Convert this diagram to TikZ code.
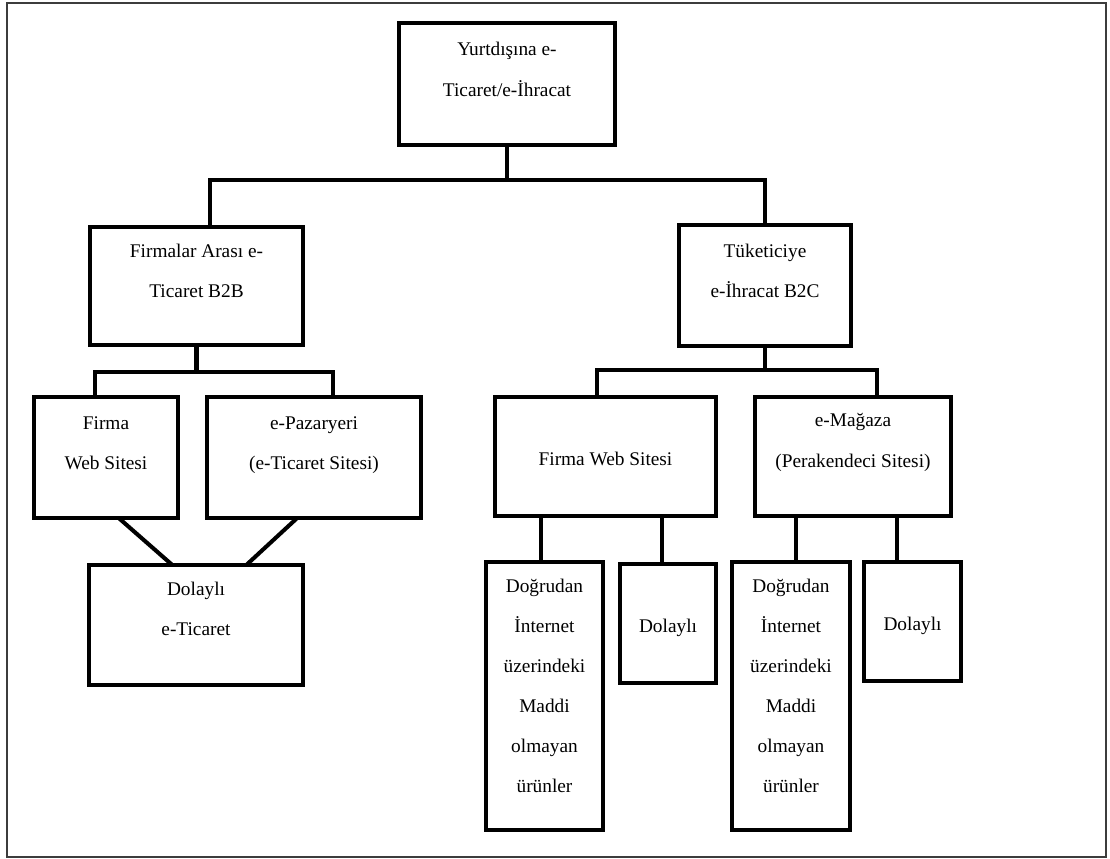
\documentclass[tikz,border=0pt]{standalone}
\usepackage{fontspec}
\setmainfont{Liberation Serif}
\usepackage{tikz}
\usetikzlibrary{positioning,calc}
\definecolor{frameGray}{RGB}{60, 60, 60}

\tikzset{
    orgbox/.style={draw=black,line width=2.3pt,fill=white,inner sep=0pt},
    boxtext/.style={anchor=north,align=center,inner sep=0pt,outer sep=0pt,
        font=\fontsize{11}{23}\selectfont,execute at begin node=\strut},
    conn/.style={line width=2.3pt,line cap=rect}
}

\begin{document}
\begin{tikzpicture}[x=0.02cm,y=-0.02cm]
        \useasboundingbox (0,0) rectangle (1110,859);
        \draw[frameGray,line width=0.9pt] (7,3) rectangle (1106,857);

        % boxes
        \node[orgbox,minimum width=4.32cm,minimum height=2.44cm] (top) at (507,84) {};
        \node[orgbox,minimum width=4.26cm,minimum height=2.36cm] (b2b) at (196.5,286) {};
        \node[orgbox,minimum width=3.44cm,minimum height=2.42cm] (b2c) at (765,285.5) {};
        \node[orgbox,minimum width=2.88cm,minimum height=2.42cm] (fws1) at (106,457.5) {};
        \node[orgbox,minimum width=4.28cm,minimum height=2.42cm] (epaz) at (314,457.5) {};
        \node[orgbox,minimum width=4.28cm,minimum height=2.40cm] (dol0) at (196,625) {};
        \node[orgbox,minimum width=4.42cm,minimum height=2.38cm] (fws2) at (605.5,456.5) {};
        \node[orgbox,minimum width=3.92cm,minimum height=2.38cm] (emag) at (853,456.5) {};
        \node[orgbox,minimum width=2.34cm,minimum height=5.36cm] (dog1) at (544.5,696) {};
        \node[orgbox,minimum width=1.92cm,minimum height=2.38cm] (dol1) at (668,623.5) {};
        \node[orgbox,minimum width=2.36cm,minimum height=5.36cm] (dog2) at (791,696) {};
        \node[orgbox,minimum width=1.94cm,minimum height=2.38cm] (dol2) at (912.5,621.5) {};

        % texts
        \node[boxtext,below=0.43cm of top.north] (topT) {Yurtdışına e-\\Ticaret/e-İhracat};
        \node[boxtext,below=0.38cm of b2b.north] (b2bT) {Firmalar Arası e-\\Ticaret B2B};
        \node[boxtext,below=0.42cm of b2c.north] (b2cT) {Tüketiciye\\e-İhracat B2C};
        \node[boxtext,below=0.43cm of fws1.north] (fws1T) {Firma\\Web Sitesi};
        \node[boxtext,below=0.43cm of epaz.north] (epazT) {e-Pazaryeri\\(e-Ticaret Sitesi)};
        \node[boxtext,below=0.38cm of dol0.north] (dol0T) {Dolaylı\\e-Ticaret};
        \node[boxtext,below=0.85cm of fws2.north] (fws2T) {Firma Web Sitesi};
        \node[boxtext,below=0.37cm of emag.north] (emagT) {e-Mağaza\\(Perakendeci Sitesi)};
        \node[boxtext,below=0.39cm of dog1.north,font=\fontsize{11}{22.7}\selectfont] (dog1T) {Doğrudan\\İnternet\\üzerindeki\\Maddi\\olmayan\\ürünler};
        \node[boxtext,below=0.85cm of dol1.north] (dol1T) {Dolaylı};
        \node[boxtext,below=0.39cm of dog2.north,font=\fontsize{11}{22.7}\selectfont] (dog2T) {Doğrudan\\İnternet\\üzerindeki\\Maddi\\olmayan\\ürünler};
        \node[boxtext,below=0.85cm of dol2.north] (dol2T) {Dolaylı};

        % connectors
        \coordinate (bus1) at (507,180);
        \coordinate (bus2) at (195,372);
        \coordinate (bus3) at (762,370);
        \draw[conn] (top.south) -- (top.south |- bus1);
        \draw[conn] ([xshift=0.27cm]b2b.north) |- (bus1) -| (b2c.north);
        \draw[conn] (b2b.south) -- (b2b.south |- bus2);
        \draw[conn] ([xshift=-0.22cm]fws1.north) |- (bus2) -| ([xshift=0.38cm]epaz.north);
        \draw[conn] (b2c.south) -- (b2c.south |- bus3);
        \draw[conn] ([xshift=-0.17cm]fws2.north) |- (bus3) -| ([xshift=0.48cm]emag.north);
        \draw[conn] ([xshift=0.30cm]fws1.south) -- ([xshift=-0.52cm]dol0.north);
        \draw[conn] ([xshift=-0.38cm]epaz.south) -- ([xshift=1.05cm]dol0.north);
        \draw[conn] ([xshift=-0.07cm]dog1.north) -- ([xshift=-0.07cm]dog1.north |- fws2.south);
        \draw[conn] ([xshift=-0.12cm]dol1.north) -- ([xshift=-0.12cm]dol1.north |- fws2.south);
        \draw[conn] ([xshift=0.10cm]dog2.north) -- ([xshift=0.10cm]dog2.north |- emag.south);
        \draw[conn] ([xshift=-0.31cm]dol2.north) -- ([xshift=-0.31cm]dol2.north |- emag.south);
    \end{tikzpicture}
\end{document}
